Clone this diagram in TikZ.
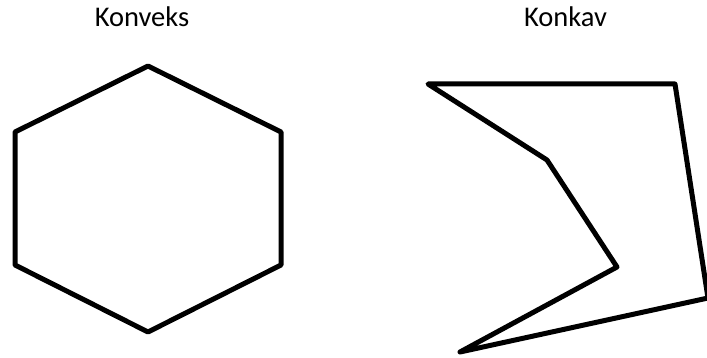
\documentclass[tikz,border=0pt]{standalone}
\usepackage{fontspec}
\setmainfont{Carlito}
\begin{document}
\begin{tikzpicture}[x=1pt,y=-1pt,line width=5pt,line join=round]
\useasboundingbox (0,0) rectangle (707,358);

\node[anchor=base,inner sep=0pt,font=\fontsize{28.5}{34}\selectfont] (konveks) at (142,26.7) {Konveks};
\node[anchor=base,inner sep=0pt,font=\fontsize{28.5}{34}\selectfont] (konkav) at (565.5,26.7) {Konkav};

\draw (148,66) -- (281,132) -- (281,265) -- (148,332) -- (15,265) -- (15,132) -- cycle;

\draw (428,84) -- (675,84) -- (708,298) -- (460,352) -- (617,267) -- (547,160) -- cycle;
\end{tikzpicture}
\end{document}
